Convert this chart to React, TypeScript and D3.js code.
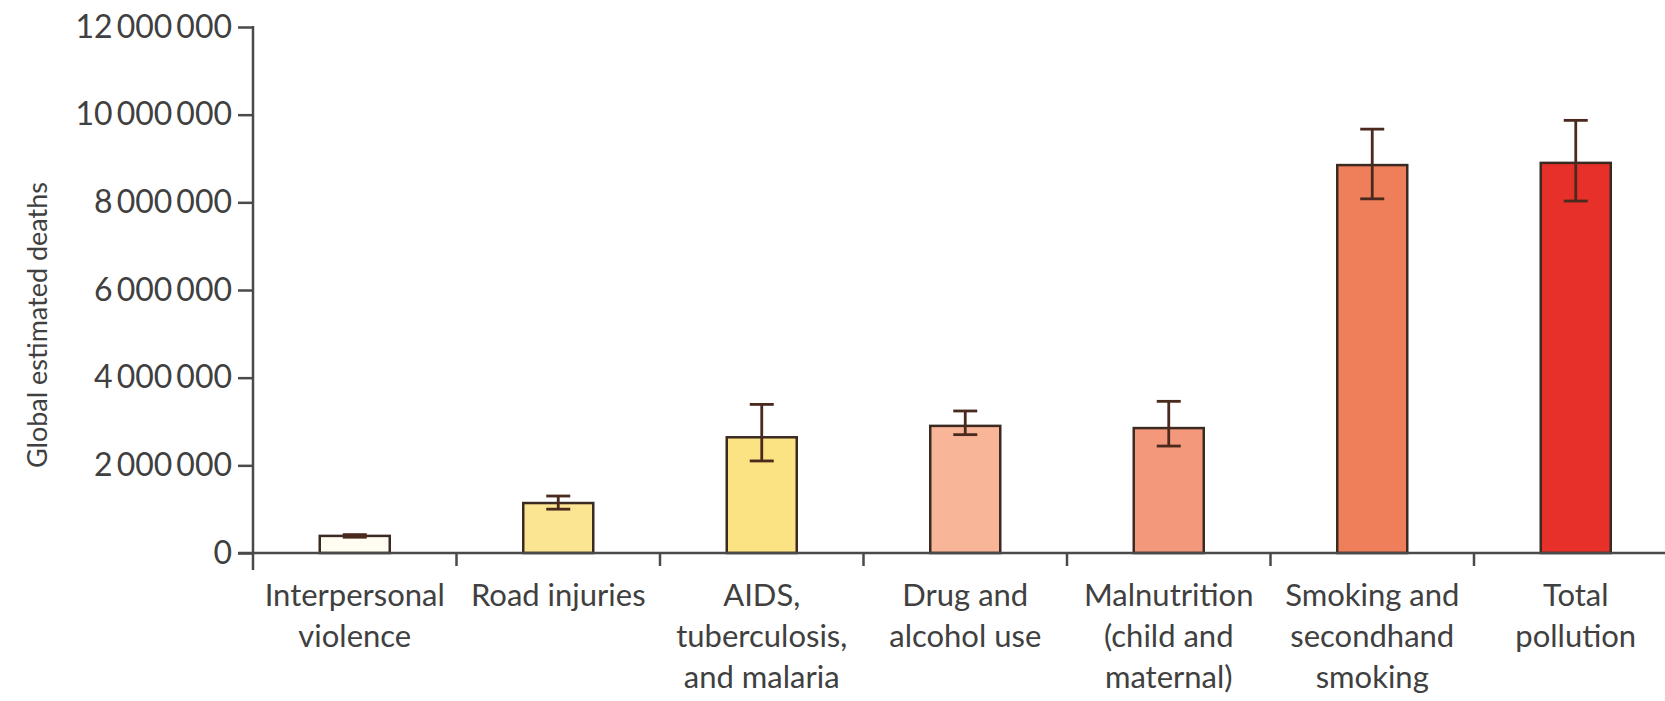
import * as d3 from "d3";
import { useEffect, useRef } from "react";

const categories = [
    ["Interpersonal", "violence"],
    ["Road injuries"],
    ["AIDS,", "tuberculosis,", "and malaria"],
    ["Drug and", "alcohol use"],
    ["Malnutrition", "(child and", "maternal)"],
    ["Smoking and", "secondhand", "smoking"],
    ["Total", "pollution"],
];
const deaths = [390000, 1140000, 2640000, 2900000, 2850000, 8850000, 8900000];
const lowerCI = [360000, 1000000, 2100000, 2700000, 2440000, 8080000, 8030000];
const upperCI = [420000, 1300000, 3390000, 3240000, 3460000, 9670000, 9870000];
const barColors = ["#fffcf2", "#fbe592", "#fbe283", "#f8b598", "#f4987b", "#ef7e5b", "#e8302a"];
const yTicks = [0, 2000000, 4000000, 6000000, 8000000, 10000000, 12000000];

const W = 1665;
const H = 701;
const FONT = "Lato, 'Open Sans', sans-serif";

export default function App() {
    const ref = useRef<SVGSVGElement | null>(null);

    useEffect(() => {
        if (!ref.current) return;
        const svg = d3.select(ref.current);
        svg.selectAll("*").remove();

        const left = 253;
        const band = 203.5;
        const baseY = 553;
        const ink = "#4a4a4a";

        const x = d3
            .scaleBand<number>()
            .domain(d3.range(categories.length))
            .range([left, left + band * categories.length])
            .padding(0);
        const y = d3.scaleLinear().domain([0, 12000000]).range([baseY, 27]);
        const barW = 70;

        const fmt = (v: number) => d3.format(",")(v).replace(/,/g, "\u2009");

        // y axis
        const yAxis = svg
            .append("g")
            .attr("transform", `translate(${left},0)`)
            .call(d3.axisLeft(y).tickValues(yTicks).tickSize(15).tickPadding(6).tickFormat(d => fmt(+d)));
        yAxis.select(".domain").remove();
        yAxis.selectAll("line").attr("stroke", ink).attr("stroke-width", 2.5);
        yAxis
            .selectAll("text")
            .attr("fill", "#404040")
            .style("font-family", FONT)
            .style("font-size", "32px");

        svg.append("line")
            .attr("x1", left).attr("x2", left)
            .attr("y1", y(12000000) - 1).attr("y2", baseY + 17)
            .attr("stroke", ink).attr("stroke-width", 2.5);

        // bars
        svg.append("g")
            .selectAll("rect")
            .data(deaths)
            .join("rect")
            .attr("x", (d, i) => x(i)! + band / 2 - barW / 2)
            .attr("width", barW)
            .attr("y", d => y(d))
            .attr("height", d => baseY - y(d))
            .attr("fill", (d, i) => barColors[i])
            .attr("stroke", "#3b2a22")
            .attr("stroke-width", 2.5);

        // x axis
        svg.append("line")
            .attr("x1", left - 15).attr("x2", W)
            .attr("y1", baseY).attr("y2", baseY)
            .attr("stroke", ink).attr("stroke-width", 2.5);
        svg.append("g")
            .selectAll("line")
            .data(d3.range(1, categories.length + 1))
            .join("line")
            .attr("x1", i => left + i * band).attr("x2", i => left + i * band)
            .attr("y1", baseY).attr("y2", baseY + 13)
            .attr("stroke", ink).attr("stroke-width", 2.5);

        // error bars
        const err = svg.append("g").attr("stroke", "#4a2a1e").attr("stroke-width", 2.8);
        deaths.forEach((d, i) => {
            const cx = x(i)! + band / 2;
            err.append("line").attr("x1", cx).attr("x2", cx).attr("y1", y(upperCI[i])).attr("y2", y(lowerCI[i]));
            [upperCI[i], lowerCI[i]].forEach(v => {
                err.append("line").attr("x1", cx - 12).attr("x2", cx + 12).attr("y1", y(v)).attr("y2", y(v));
            });
        });

        // category labels
        const labels = svg.append("g")
            .attr("fill", "#404040")
            .style("font-family", FONT)
            .style("font-size", "31px")
            .attr("text-anchor", "middle");
        categories.forEach((lines, i) => {
            const t = labels.append("text").attr("x", x(i)! + band / 2).attr("y", baseY + 53);
            lines.forEach((ln, j) => {
                t.append("tspan").attr("x", x(i)! + band / 2).attr("dy", j === 0 ? 0 : 41).text(ln);
            });
        });

        // y title
        svg.append("text")
            .attr("transform", `translate(47,${(y(0) + y(12000000)) / 2 + 35}) rotate(-90)`)
            .attr("text-anchor", "middle")
            .attr("fill", "#404040")
            .style("font-family", FONT)
            .style("font-size", "27px")
            .text("Global estimated deaths");
    }, []);

    return (
        <svg
            ref={ref}
            width={W}
            height={H}
            style={{ position: "absolute", left: 0, top: 0, background: "#fff" }}
        />
    );
}
